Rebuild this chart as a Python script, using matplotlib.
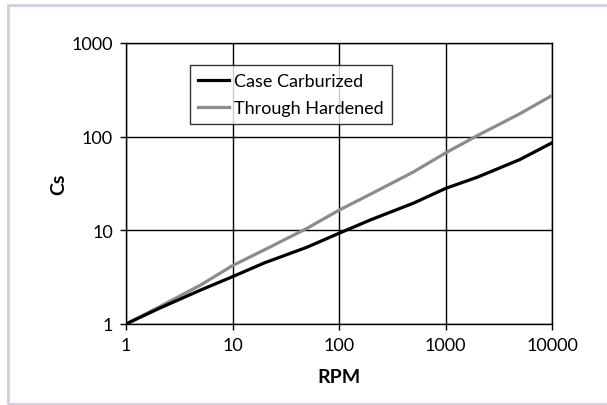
import matplotlib
matplotlib.use( "Agg" )
import matplotlib.pyplot as plt
from matplotlib.patches import Rectangle
from matplotlib.ticker import FixedLocator, FixedFormatter, NullLocator

# データ
rpm = [1, 2, 5, 10, 20, 50, 100, 200, 500, 1000, 2000, 5000, 10000]
case_carburized = [1.0, 1.45, 2.3, 3.2, 4.5, 6.6, 9.3, 13.0, 19.5, 28.0, 37.0, 57.0, 86.0]
through_hardened = [1.0, 1.5, 2.6, 4.2, 6.2, 10.5, 16.4, 24.5, 42.0, 67.0, 103.0, 176.0, 275.0]

tick_values = [1, 10, 100, 1000, 10000]
tick_labels = ['1', '10', '100', '1000', '10000']
ytick_values = [1, 10, 100, 1000]
ytick_labels = ['1', '10', '100', '1000']

plt.rcParams['font.family'] = ['Lato', 'DejaVu Sans']

W, H = 607, 406
fig = plt.figure( figsize=( W / 100, H / 100 ), dpi=100 )
left, right, top, bottom = 126, 552, 44, 325
ax = fig.add_axes( [left / W, 1 - bottom / H, ( right - left ) / W, ( bottom - top ) / H] )

ax.plot( rpm, through_hardened, color='#8c8c8c', lw=2.3, label='Through Hardened', zorder=3 )
ax.plot( rpm, case_carburized, color='black', lw=2.3, label='Case Carburized', zorder=4 )

ax.set_xscale( 'log' )
ax.set_yscale( 'log' )
ax.set_xlim( 1, 10000 )
ax.set_ylim( 1, 1000 )

ax.xaxis.set_major_locator( FixedLocator( tick_values ) )
ax.xaxis.set_major_formatter( FixedFormatter( tick_labels ) )
ax.yaxis.set_major_locator( FixedLocator( ytick_values ) )
ax.yaxis.set_major_formatter( FixedFormatter( ytick_labels ) )
ax.xaxis.set_minor_locator( NullLocator() )
ax.yaxis.set_minor_locator( NullLocator() )

ax.grid( True, color='black', lw=1.0 )
ax.set_axisbelow( True )
ax.tick_params( direction='out', length=4.5, width=1, labelsize=13, pad=5 )
for s in ax.spines.values():
    s.set_linewidth( 1.0 )

ax.set_xlabel( 'RPM', fontsize=14, fontweight='bold', labelpad=11 )
ax.set_ylabel( 'Cs', fontsize=14, fontweight='bold', labelpad=3 )

# 凡例（順番を元の図に合わせる）
handles, labels = ax.get_legend_handles_labels()
leg = ax.legend( handles[::-1], labels[::-1], loc='upper left',
                 bbox_to_anchor=( ( 190 - left ) / ( right - left ), ( bottom - 66 ) / ( bottom - top ) ),
                 frameon=True, fancybox=False, edgecolor='black', fontsize=13,
                 handlelength=1.7, handletextpad=0.3, borderpad=0.45,
                 labelspacing=0.6, borderaxespad=0 )
leg.get_frame().set_linewidth( 1.0 )

# 外枠
fig.patches.append( Rectangle( ( 8 / W, 1 / H ), 1.1, 399 / H,
                               transform=fig.transFigure, fill=False,
                               edgecolor='#d6cae4', lw=2 ) )

fig.savefig( 'out.png', dpi=100 )
